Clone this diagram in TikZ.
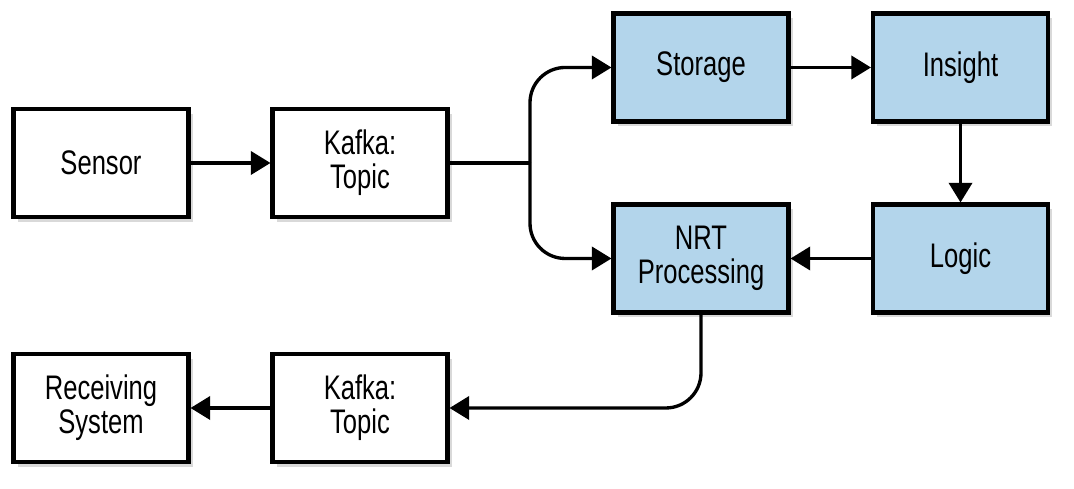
\documentclass[tikz,border=0pt]{standalone}
\usepackage{fontspec}
\setmainfont[FakeStretch=0.75]{Liberation Sans}
\usetikzlibrary{arrows.meta,shadows}
\definecolor{procblue}{HTML}{B3D5EB}
\tikzset{
    box/.style={draw, line width=1.15pt, fill=white, minimum width=1.75cm, minimum height=1.08cm,
        inner sep=0pt, align=center, font=\fontsize{9.7pt}{9.6pt}\selectfont,
        drop shadow={shadow xshift=1.2pt, shadow yshift=-1.4pt, opacity=0.3}},
    procbox/.style={box, fill=procblue},
    flow/.style={line width=0.95pt, -{Triangle[length=5.6pt, width=6.6pt]}}
}
\begin{document}
\begin{tikzpicture}
    \useasboundingbox (0,0) rectangle (10.74,4.89);

    % Input side
    \node[box] (sensor) at (1.01, 3.26) {Sensor};
    \node[box] (kafkain) at (3.60, 3.26) {Kafka:\\Topic};

    % Processing boxes
    \node[procbox] (storage) at (7.01, 4.215) {Storage};
    \node[procbox] (insight) at (9.605, 4.215) {Insight};
    \node[procbox] (nrt) at (7.01, 2.305) {NRT\\Processing};
    \node[procbox] (logic) at (9.605, 2.305) {Logic};

    % Output side
    \node[box] (receiving) at (1.01, 0.81) {Receiving\\System};
    \node[box] (kafkaout) at (3.60, 0.81) {Kafka:\\Topic};

    % Fork point
    \coordinate (fork) at (5.30, 3.26);

    % Connectors
    \draw[flow] (sensor) -- (kafkain);
    \draw[line width=0.95pt] (kafkain) -- (fork);
    \draw[flow, rounded corners=10pt] (fork) |- (storage.west);
    \draw[flow, rounded corners=10pt] (fork) |- (nrt.west);
    \draw[flow] (storage) -- (insight);
    \draw[flow] (insight) -- (logic);
    \draw[flow] (logic) -- (nrt);
    \draw[flow, rounded corners=10pt] (nrt.south) |- (kafkaout.east);
    \draw[flow] (kafkaout) -- (receiving);
\end{tikzpicture}
\end{document}
